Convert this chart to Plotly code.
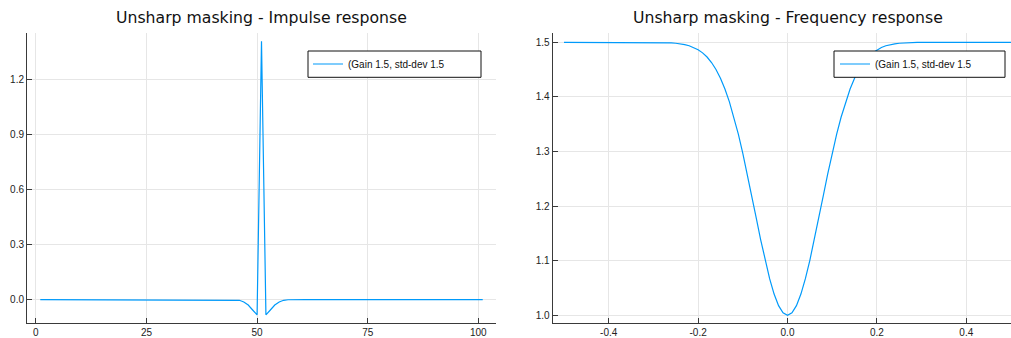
import plotly.graph_objects as go

# ---- data -------------------------------------------------------------
SERIES_NAME = "(Gain 1.5, std-dev 1.5"

# impulse response, samples 1..101
sample_index = list(range(1, 102))
impulse_values = [
    0.0, 0.0, 0.0, 0.0, 0.0, 0.0, 0.0, 0.0, 0.0, 0.0,
    0.0, 0.0, 0.0, 0.0, 0.0, 0.0, 0.0, 0.0, 0.0, 0.0,
    0.0, 0.0, 0.0, 0.0, 0.0, 0.0, 0.0, 0.0, 0.0, 0.0,
    0.0, 0.0, 0.0, 0.0, 0.0, 0.0, 0.0, 0.0, 0.0, 0.0,
    0.0, 0.0, 0.0, 0.0, -0.001, -0.004, -0.013, -0.030, -0.057, -0.083,
    1.407,
    -0.083, -0.057, -0.030, -0.013, -0.004, -0.001, 0.0, 0.0, 0.0, 0.0,
    0.0, 0.0, 0.0, 0.0, 0.0, 0.0, 0.0, 0.0, 0.0, 0.0,
    0.0, 0.0, 0.0, 0.0, 0.0, 0.0, 0.0, 0.0, 0.0, 0.0,
    0.0, 0.0, 0.0, 0.0, 0.0, 0.0, 0.0, 0.0, 0.0, 0.0,
    0.0, 0.0, 0.0, 0.0, 0.0, 0.0, 0.0, 0.0, 0.0, 0.0,
]

# frequency response, normalised frequency -0.5 .. 0.5 in steps of 0.01
frequencies = [round(-0.5 + 0.01 * i, 2) for i in range(101)]
freq_response = [
    1.5, 1.5, 1.5, 1.5, 1.5, 1.5, 1.5, 1.5, 1.5, 1.5,
    1.5, 1.5, 1.5, 1.5, 1.5, 1.5, 1.5, 1.5, 1.5, 1.5,
    1.4998, 1.4997, 1.4996, 1.4993, 1.4989, 1.4982, 1.4972, 1.4957, 1.4936, 1.4906,
    1.4863, 1.4806, 1.4730, 1.4629, 1.4501, 1.4340, 1.4143, 1.3908, 1.3632, 1.3317,
    1.2967, 1.2588, 1.2189, 1.1783, 1.1383, 1.1007, 1.0671, 1.0389, 1.0177, 1.0045,
    1.0,
    1.0045, 1.0177, 1.0389, 1.0671, 1.1007, 1.1383, 1.1783, 1.2189, 1.2588, 1.2967,
    1.3317, 1.3632, 1.3908, 1.4143, 1.4340, 1.4501, 1.4629, 1.4730, 1.4806, 1.4863,
    1.4906, 1.4936, 1.4957, 1.4972, 1.4982, 1.4989, 1.4993, 1.4996, 1.4997, 1.4998,
    1.5, 1.5, 1.5, 1.5, 1.5, 1.5, 1.5, 1.5, 1.5, 1.5,
    1.5, 1.5, 1.5, 1.5, 1.5, 1.5, 1.5, 1.5, 1.5, 1.5,
]

impulse_xticks = [0, 25, 50, 75, 100]
impulse_xticktext = ["0", "25", "50", "75", "100"]
impulse_yticks = [0.0, 0.3, 0.6, 0.9, 1.2]
impulse_yticktext = ["0.0", "0.3", "0.6", "0.9", "1.2"]
freq_xticks = [-0.4, -0.2, 0.0, 0.2, 0.4]
freq_xticktext = ["-0.4", "-0.2", "0.0", "0.2", "0.4"]
freq_yticks = [1.0, 1.1, 1.2, 1.3, 1.4, 1.5]
freq_yticktext = ["1.0", "1.1", "1.2", "1.3", "1.4", "1.5"]

# ---- styling ----------------------------------------------------------
W, H = 1011, 338
LINE_COLOR = "#009AFA"
GRID = "#e6e6e6"
AXIS = "#3a3a3a"
TICK_FONT = dict(family="Liberation Sans, Arial, sans-serif", size=10, color="#222")
TITLE_FONT = dict(family="DejaVu Sans, sans-serif", size=15.7, color="#111")
LEGEND_FONT = dict(family="Liberation Sans, Arial, sans-serif", size=10, color="#111")


def px_x(p):
    return p / W


def px_y(p):
    return 1 - p / H


fig = go.Figure()
fig.add_trace(go.Scatter(
    x=sample_index, y=impulse_values, mode="lines",
    line=dict(color=LINE_COLOR, width=1.2),
    name=SERIES_NAME, xaxis="x", yaxis="y", legend="legend",
))
fig.add_trace(go.Scatter(
    x=frequencies, y=freq_response, mode="lines",
    line=dict(color=LINE_COLOR, width=1.2),
    name=SERIES_NAME, xaxis="x2", yaxis="y2", legend="legend2",
))

axis_common = dict(
    showgrid=True, gridcolor=GRID, gridwidth=1,
    showline=True, linecolor=AXIS, linewidth=1,
    ticks="inside", ticklen=5, tickcolor=AXIS, tickwidth=1,
    tickfont=TICK_FONT, zeroline=False, mirror=False, tickmode="array",
)

y_dom = [px_y(323), px_y(33)]

fig.update_layout(
    width=W, height=H,
    margin=dict(l=0, r=0, t=0, b=0, pad=0),
    paper_bgcolor="white", plot_bgcolor="white",
    xaxis=dict(domain=[px_x(27), px_x(496)], range=[-2, 104],
               tickvals=impulse_xticks, ticktext=impulse_xticktext,
               anchor="y", **axis_common),
    yaxis=dict(domain=y_dom, range=[-0.1277, 1.4517],
               tickvals=impulse_yticks, ticktext=impulse_yticktext,
               anchor="x", **axis_common),
    xaxis2=dict(domain=[px_x(552.7), 1.0], range=[-0.5253, 0.5],
                tickvals=freq_xticks, ticktext=freq_xticktext,
                anchor="y2", **axis_common),
    yaxis2=dict(domain=y_dom, range=[0.9859, 1.517],
                tickvals=freq_yticks, ticktext=freq_yticktext,
                anchor="x2", **axis_common),
    legend=dict(x=px_x(308), y=px_y(64), xanchor="left", yanchor="middle",
                bgcolor="rgba(0,0,0,0)", borderwidth=0, font=LEGEND_FONT,
                itemclick=False),
    legend2=dict(x=px_x(835), y=px_y(64), xanchor="left", yanchor="middle",
                 bgcolor="rgba(0,0,0,0)", borderwidth=0, font=LEGEND_FONT,
                 itemclick=False),
    showlegend=True,
)

# legend frames (white fill, drawn above the curves)
for x0, x1 in [(308, 481), (834, 1005)]:
    fig.add_shape(type="rect", xref="paper", yref="paper",
                  x0=px_x(x0), x1=px_x(x1), y0=px_y(77.3), y1=px_y(51),
                  line=dict(color="#111", width=1), fillcolor="white",
                  layer="above")

# subplot titles
for cx, text in [(261.5, "Unsharp masking - Impulse response"),
                 (787.5, "Unsharp masking - Frequency response")]:
    fig.add_annotation(x=px_x(cx), y=px_y(17), xref="paper", yref="paper",
                       text=text, showarrow=False, font=TITLE_FONT,
                       xanchor="center", yanchor="middle")

fig.write_html("out.html")
